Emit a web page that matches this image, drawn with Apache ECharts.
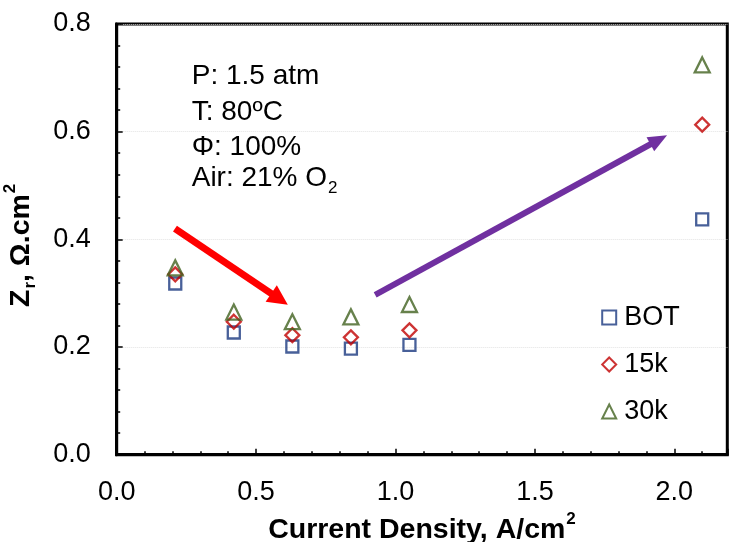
<!DOCTYPE html>
<html><head><meta charset="utf-8">
<script src="https://cdn.jsdelivr.net/npm/echarts@6/dist/echarts.min.js"></script>
<style>html,body{margin:0;padding:0;background:#fff}#c{width:730px;height:542px}</style>
</head><body><div id="c"></div>
<script>
// ---- data ----
const xValues = [0.21, 0.42, 0.63, 0.84, 1.05, 2.1];
const botValues = [0.318, 0.227, 0.201, 0.197, 0.204, 0.437];
const k15Values = [0.335, 0.247, 0.222, 0.218, 0.231, 0.613];
const k30Values = [0.347, 0.265, 0.247, 0.256, 0.279, 0.724];
const seriesNames = ['BOT', '15k', '30k'];
const xTickLabels = ['0.0', '0.5', '1.0', '1.5', '2.0'];
const yTickLabels = ['0.0', '0.2', '0.4', '0.6', '0.8'];
const conditionLines = ['P: 1.5 atm', 'T: 80ºC', 'Φ: 100%', 'Air: 21% O{sub|2}'];
// arrows in data coordinates [start, end]
const redArrow = [[0.209, 0.420], [0.584, 0.289]];
const purpleArrow = [[0.927, 0.297], [1.944, 0.585]];

// ---- styling ----
const FONT = '"Liberation Sans", Arial, sans-serif';
const colors = ['#1A3880', '#C00000', '#41621F'];
const symbols = ['rect', 'diamond', 'triangle'];
const sizes = [12, 14, 15];
const X_MAX = 2.19;

const chart = echarts.init(document.getElementById('c'), null, {renderer: 'canvas'});

function pairs(ys) { return xValues.map((x, i) => [x, ys[i]]); }
const allValues = [botValues, k15Values, k30Values];

const series = seriesNames.map((name, i) => ({
  name: name,
  type: 'scatter',
  xAxisIndex: 0,
  yAxisIndex: 0,
  data: pairs(allValues[i]),
  symbol: symbols[i],
  symbolSize: sizes[i],
  itemStyle: {color: 'rgba(255,255,255,0)', borderColor: colors[i], borderWidth: 2.3},
  emphasis: {disabled: true},
  animation: false,
  z: 3
}));

function arrowLine(a, color, width, headSize) {
  return {
    silent: true,
    animation: false,
    symbol: ['none', 'triangle'],
    symbolSize: headSize,
    label: {show: false},
    lineStyle: {color: color, width: width, type: 'solid'},
    data: [[{coord: a[0]}, {coord: a[1]}]]
  };
}
series.push({
  type: 'line', data: [], xAxisIndex: 0, yAxisIndex: 0,
  markLine: arrowLine(redArrow, '#FF0000', 7, [20, 20]), z: 2
});
series.push({
  type: 'line', data: [], xAxisIndex: 0, yAxisIndex: 0,
  markLine: arrowLine(purpleArrow, '#7030A0', 6, [16, 19]), z: 2
});

const textCenters = [76.5, 111.8, 147, 178.5];
const graphics = conditionLines.map((t, i) => ({
  type: 'text',
  x: 191.7,
  y: textCenters[i],
  style: {
    text: t,
    fill: '#000',
    fontSize: 28,
    fontFamily: FONT,
    verticalAlign: 'middle',
    align: 'left',
    rich: {
      sub: {fontSize: 17, fontFamily: FONT, fill: '#000', lineHeight: 14, padding: [20, 0, 0, 1]}
    }
  },
  silent: true
}));

const option = {
  backgroundColor: '#fff',
  animation: false,
  textStyle: {fontFamily: FONT},
  grid: {left: 116.7, right: 2.7, top: 24, bottom: 87.3, show: true, borderColor: '#000', borderWidth: 3, containLabel: false, outerBoundsMode: 'none'},
  legend: {
    data: seriesNames,
    orient: 'vertical',
    left: 596.2,
    top: 299,
    itemWidth: 14,
    itemHeight: 14,
    itemGap: 20,
    selectedMode: false,
    textStyle: {fontSize: 27, color: '#000', fontFamily: FONT, padding: [0, 0, 0, 3]}
  },
  xAxis: [{
    type: 'value', min: 0, max: X_MAX, interval: 0.5,
    name: 'Current Density, A/cm{sup|2}',
    nameLocation: 'middle', nameGap: 58,
    nameTextStyle: {
      fontSize: 28.5, fontWeight: 'bold', color: '#000', fontFamily: FONT, lineHeight: 34,
      rich: {sup: {fontSize: 17, fontWeight: 'bold', color: '#000', fontFamily: FONT, lineHeight: 14, padding: [0, 0, 20, 1]}}
    },
    axisLine: {show: true, lineStyle: {color: '#000', width: 3}},
    axisTick: {show: true, inside: true, length: 6, lineStyle: {color: '#000', width: 1.5}},
    axisLabel: {
      fontSize: 27, color: '#000', fontFamily: FONT, margin: 24, showMaxLabel: true,
      formatter: function (v) {
        const idx = Math.round(v / 0.5);
        if (Math.abs(v - idx * 0.5) < 1e-6 && idx < xTickLabels.length) return xTickLabels[idx];
        return '';
      }
    },
    splitLine: {show: false}
  }, {
    type: 'value', min: 0, max: X_MAX, interval: 0.1, position: 'bottom',
    axisLine: {show: false},
    axisTick: {show: true, inside: true, length: 3.5, lineStyle: {color: '#000', width: 1.5}},
    axisLabel: {show: false},
    splitLine: {show: false}
  }],
  yAxis: {
    type: 'value', min: 0, max: 0.8, interval: 0.2,
    name: 'Z{sub|r}, Ω.cm{sup|2}',
    nameLocation: 'middle', nameGap: 79, nameRotate: 90,
    nameTextStyle: {
      fontSize: 28.5, fontWeight: 'bold', color: '#000', fontFamily: FONT, lineHeight: 34,
      padding: [0, 12, 0, 0],
      rich: {
        sub: {fontSize: 17, fontWeight: 'bold', color: '#000', fontFamily: FONT, lineHeight: 14, padding: [20, 0, 0, 1]},
        sup: {fontSize: 17, fontWeight: 'bold', color: '#000', fontFamily: FONT, lineHeight: 14, padding: [0, 0, 20, 1]}
      }
    },
    axisLine: {show: true, lineStyle: {color: '#000', width: 3}},
    axisTick: {show: true, inside: true, length: 6, lineStyle: {color: '#000', width: 1.5}},
    minorTick: {show: true, splitNumber: 5, length: 3.5, lineStyle: {color: '#000', width: 1.5}},
    axisLabel: {
      fontSize: 27, color: '#000', fontFamily: FONT, margin: 26,
      formatter: function (v) {
        const idx = Math.round(v / 0.2);
        return yTickLabels[idx] !== undefined ? yTickLabels[idx] : '';
      }
    },
    splitLine: {show: true, lineStyle: {color: '#e3e3e3', type: 'dotted', width: 1}}
  },
  graphic: graphics,
  series: series
};
chart.setOption(option);
</script>
</body></html>
